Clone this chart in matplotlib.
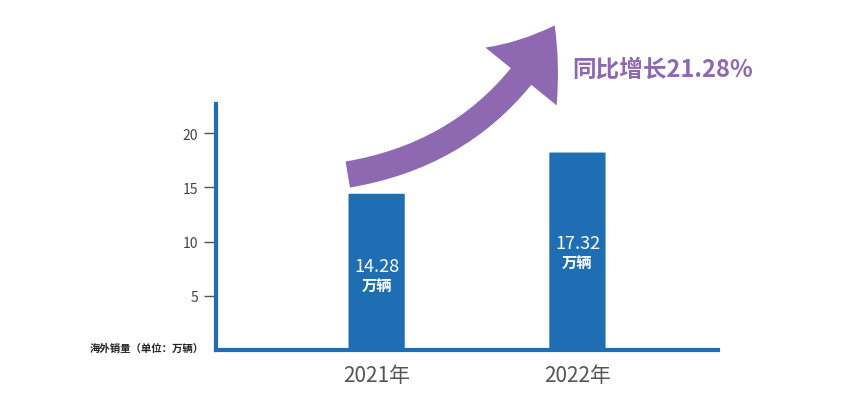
import matplotlib
matplotlib.use("Agg")
import matplotlib.pyplot as plt
from matplotlib.patches import FancyArrowPatch, FancyBboxPatch

plt.rcParams['font.family'] = ['Noto Sans CJK SC', 'DejaVu Sans']

years = ['2021年', '2022年']
bar_heights = [14.4, 18.2]
value_labels = ['14.28', '17.32']
yticks = [5, 10, 15, 20]
growth = '同比增长21.28%'

W, H = 852, 414
fig = plt.figure(figsize=(W/100, H/100), dpi=100)
blue = '#1f6db3'
purple = '#8f68b2'
ax = fig.add_axes([216/W, (H-351)/H, (718-216)/W, (351-105)/H])
ax.set_xlim(-0.80, 1.70)
ax.set_ylim(0, (351-105)/10.85)
bw = 0.28
for i, (h, lab) in enumerate(zip(bar_heights, value_labels)):
    p = FancyBboxPatch((i-bw/2, 0), bw, h, boxstyle="round,pad=0,rounding_size=0.03",
                       mutation_aspect=10.85/201*8, fc=blue, ec='none')
    ax.add_patch(p)
    ymid = h*0.54
    ax.text(i, ymid, lab, color='white', ha='center', va='center', fontsize=13)
    ax.text(i, ymid-1.75, '万辆', color='white', ha='center', va='center', fontsize=11, fontweight='bold')
for s in ['top', 'right']:
    ax.spines[s].set_visible(False)
for s in ['left', 'bottom']:
    ax.spines[s].set_color(blue)
    ax.spines[s].set_linewidth(3)
ax.set_yticks(yticks)
ax.set_yticklabels([str(v) for v in yticks], color='#444444', fontsize=10)
ax.tick_params(axis='y', length=9, width=1, color='#555555', pad=4)
ax.set_xticks([0, 1])
ax.set_xticklabels(years, color='#555555', fontsize=15)
ax.tick_params(axis='x', length=0, pad=10)

fig.text(90/W, 1-349/H, '海外销量（单位：万辆）', fontsize=7.5, fontweight='bold', color='#222222', va='center')
fig.text(572/W, 1-70/H, growth, fontsize=17, fontweight='bold', color=purple, va='center')

arr = FancyArrowPatch((345/W, 1-176/H), (556/W, 1-24/H), transform=fig.transFigure,
                      connectionstyle="arc3,rad=0.25",
                      arrowstyle="simple,head_width=66,head_length=44,tail_width=19",
                      mutation_scale=1, fc=purple, ec='none')
fig.patches.append(arr)
fig.savefig('out.png', dpi=100)
